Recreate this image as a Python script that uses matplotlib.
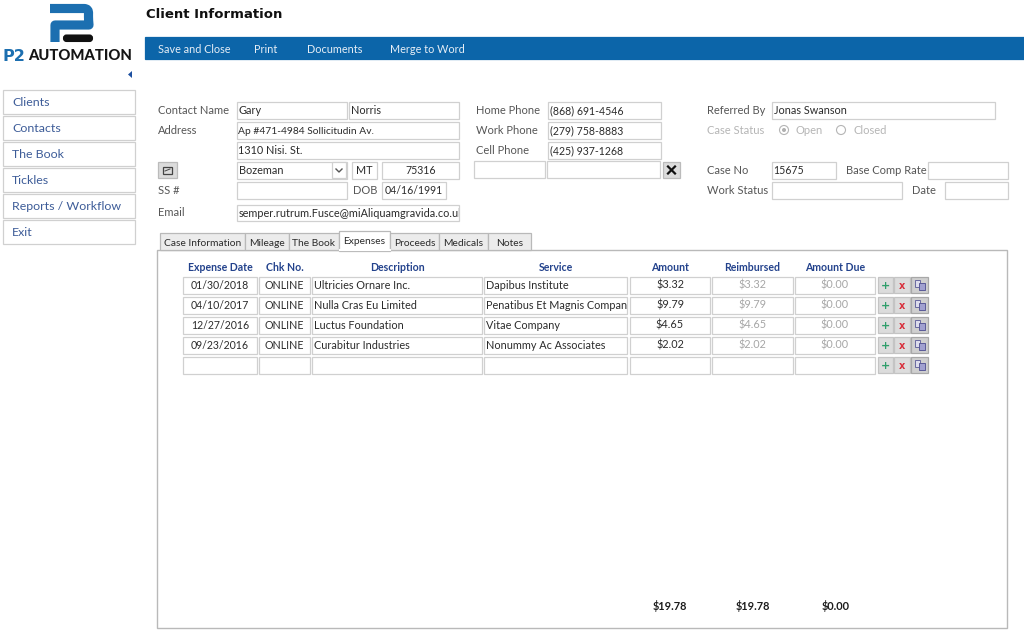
from matplotlib import pyplot as plt
from matplotlib.patches import Rectangle, FancyBboxPatch, Circle, Polygon, PathPatch
from matplotlib.path import Path
from matplotlib.transforms import Bbox, TransformedBbox

FONT = 'Lato'
plt.rcParams['font.family'] = [FONT, 'DejaVu Sans']

menu_items = ['Save and Close', 'Print', 'Documents', 'Merge to Word']
nav_items = ['Clients', 'Contacts', 'The Book', 'Tickles', 'Reports / Workflow', 'Exit']
tab_names = ['Case Information', 'Mileage', 'The Book', 'Expenses', 'Proceeds', 'Medicals', 'Notes']
active_tab = 'Expenses'

columns = ['Expense Date', 'Chk No.', 'Description', 'Service', 'Amount', 'Reimbursed', 'Amount Due']
expense_dates = ['01/30/2018', '04/10/2017', '12/27/2016', '09/23/2016', '']
check_nos = ['ONLINE', 'ONLINE', 'ONLINE', 'ONLINE', '']
descriptions = ['Ultricies Ornare Inc.', 'Nulla Cras Eu Limited', 'Luctus Foundation', 'Curabitur Industries', '']
services = ['Dapibus Institute', 'Penatibus Et Magnis Compan', 'Vitae Company', 'Nonummy Ac Associates', '']
amounts = ['$3.32', '$9.79', '$4.65', '$2.02', '']
reimbursed = ['$3.32', '$9.79', '$4.65', '$2.02', '']
amount_due = ['$0.00', '$0.00', '$0.00', '$0.00', '']
totals = ['$19.78', '$19.78', '$0.00']

fig = plt.figure(figsize=(10.24, 6.4), dpi=100, facecolor='w')
ax = fig.add_axes([0, 0, 1, 1])
ax.set_xlim(0, 1024)
ax.set_ylim(640, 0)
ax.axis('off')

BLUE = '#0c65a9'
EDGE = '#d0d0d0'
LABEL = '#565656'
INK = '#2b2b2b'
NAVY = '#23428c'
FIELD_SIZE = 7.85
NUM_SIZE = 7.6


def box(x0, y0, x1, y1, fc='w', ec=EDGE, lw=0.9):
    ax.add_patch(Rectangle((x0, y0), x1 - x0, y1 - y0, fc=fc, ec=ec, lw=lw))


def txt(x, y, s, color=INK, size=8.0, ha='left', weight='normal', family=None):
    # y is the middle of the capitals; baseline on a whole pixel so a row stays level
    base = round(y + size * 0.5)
    return ax.text(x, base, s, color=color, fontsize=size, ha=ha, va='baseline', fontweight=weight,
                   family=family if family else [FONT, 'DejaVu Sans'])


def field(x0, y0, x1, y1, s='', ha='left', color=INK, size=FIELD_SIZE):
    box(x0, y0, x1, y1)
    if ha == 'center':
        txt((x0 + x1) / 2, (y0 + y1) / 2, s, color=color, ha='center', size=size)
    else:
        t = txt(x0 + 1.5, (y0 + y1) / 2, s, color=color, size=size)
        t.set_clip_box(TransformedBbox(Bbox([[x0, y0], [x1, y1]]), ax.transData))
        t.set_clip_on(True)


# logo
p2_verts = [(50, 8.5), (84, 8.5), (89, 8.5), (88.5, 14), (88.5, 17), (88.5, 20), (89, 25), (84, 25), (55, 25), (55, 42)]
p2_codes = [Path.MOVETO, Path.LINETO, Path.CURVE3, Path.CURVE3, Path.LINETO, Path.CURVE3, Path.CURVE3,
            Path.LINETO, Path.LINETO, Path.LINETO]
ax.add_patch(PathPatch(Path(p2_verts, p2_codes), fc='none', ec='#1c6fb0', lw=6.6, capstyle='butt', joinstyle='round'))
ax.add_patch(FancyBboxPatch((64, 35.5), 28, 5.5, boxstyle='round,pad=0,rounding_size=2.5', fc='#111111', ec='#111111', lw=1.5))
txt(3, 55, 'P2', color='#1c6fb0', size=11.5, weight='bold', family='DejaVu Sans')
txt(28, 55, 'AUTOMATION', color='#151515', size=10.6, weight='black')
ax.add_patch(Polygon([(132, 71), (132, 78), (128, 74.5)], fc='#1c4fa0', ec='none'))

# header
txt(146, 13, 'Client Information', color='#111111', size=9.5, weight='bold', family='DejaVu Sans')
box(145, 37, 1024, 59, fc=BLUE, ec=BLUE)
for x, s in zip([158, 254, 307, 390], menu_items):
    txt(x, 49, s, color='#e6eef6', size=7.8)

# sidebar
nav_tops = [90, 116, 142, 168, 194, 220]
for y, s in zip(nav_tops, nav_items):
    box(3, y, 135, y + 24)
    txt(12, y + 11.5, s, color='#3d5c98', size=8.9)

# form labels
for x, y, s in [(158, 110, 'Contact Name'), (158, 130, 'Address'), (158, 190, 'SS #'), (158, 212, 'Email'),
                (353, 190, 'DOB'), (476, 110, 'Home Phone'), (476, 130, 'Work Phone'), (476, 150, 'Cell Phone'),
                (707, 110, 'Referred By'), (707, 170, 'Case No'), (846, 170, 'Base Comp Rate'),
                (707, 190, 'Work Status'), (912, 190, 'Date')]:
    txt(x, y, s, color=LABEL)

# form fields
field(237, 102, 347, 119, 'Gary')
field(349, 102, 459, 119, 'Norris')
field(237, 122, 459, 139, 'Ap #471-4984 Sollicitudin Av.', size=7.4)
field(237, 142, 459, 159, '1310 Nisi. St.')
field(237, 162, 347, 179, 'Bozeman')
field(332, 162, 346, 178)
ax.plot([336, 339, 342], [169, 172, 169], color='#555555', lw=1)
field(352, 162, 377, 179, 'MT', ha='center')
field(382, 162, 459, 179, '75316', ha='center', size=NUM_SIZE)
field(237, 182, 347, 199)
field(382, 182, 446, 199, '04/16/1991', ha='center', size=NUM_SIZE)
field(237, 205, 459, 221, 'semper.rutrum.Fusce@miAliquamgravida.co.uk', size=7.8)

field(548, 102, 661, 119, '(868) 691-4546', size=NUM_SIZE)
field(548, 122, 661, 139, '(279) 758-8883', size=NUM_SIZE)
field(548, 142, 661, 159, '(425) 937-1268', size=NUM_SIZE)
field(474, 161, 545, 178)
field(547, 161, 660, 178)
field(772, 102, 995, 119, 'Jonas Swanson')
field(772, 162, 836, 179, '15675', size=NUM_SIZE)
field(928, 162, 1008, 179)
field(772, 182, 902, 199)
field(945, 182, 1008, 199)

# small buttons in the form
box(158, 162, 177, 178, fc='#dcdcdc', ec='#bbbbbb')
box(163, 167, 172, 174, fc='#dcdcdc', ec='#444444', lw=0.9)
ax.plot([165, 170], [171, 169], color='#444444', lw=0.7)
box(663, 162, 680, 178, fc='#dcdcdc', ec='#bbbbbb')
ax.plot([668, 675], [166.5, 173.5], color='#111111', lw=1.6)
ax.plot([668, 675], [173.5, 166.5], color='#111111', lw=1.6)

# case status
txt(707, 130, 'Case Status', color='#b5b5b5')
ax.add_patch(Circle((784, 130), 4.5, fc='w', ec='#b5b5b5', lw=0.8))
ax.add_patch(Circle((784, 130), 2, fc='#b0b0b0', ec='none'))
txt(796, 130, 'Open', color='#b5b5b5')
ax.add_patch(Circle((841, 130), 4.5, fc='w', ec='#b5b5b5', lw=0.8))
txt(853, 130, 'Closed', color='#b5b5b5')

# panel and tabs
box(157, 250, 1007, 628, ec='#b9b9b9', lw=1)
tab_edges = [160, 245, 289, 339, 390, 439, 488, 531]
for i, s in enumerate(tab_names):
    x0, x1 = tab_edges[i], tab_edges[i + 1]
    if s == active_tab:
        box(x0, 231, x1, 250.5, fc='w', ec='#b9b9b9')
        ax.plot([x0 + 0.5, x1 - 0.5], [250, 250], color='w', lw=1.5, zorder=3)
        txt((x0 + x1) / 2, 240.5, s, color=INK, ha='center', size=7.4)
    else:
        box(x0, 233, x1, 250, fc='#ececec', ec='#b9b9b9')
        txt((x0 + x1) / 2, 242, s, color=INK, ha='center', size=7.4)

# expenses table
col_edges = [(183, 257), (259, 310), (312, 482), (484, 627), (630, 710), (712, 793), (795, 875)]
col_data = [expense_dates, check_nos, descriptions, services, amounts, reimbursed, amount_due]
col_align = ['center', 'center', 'left', 'left', 'center', 'center', 'center']
col_color = [INK, INK, INK, INK, INK, '#a6a6a6', '#a6a6a6']
col_size = [NUM_SIZE, 7.7, FIELD_SIZE, FIELD_SIZE, FIELD_SIZE, FIELD_SIZE, FIELD_SIZE]
row_tops = [277, 297, 317, 337, 357]

for (x0, x1), name in zip(col_edges, columns):
    txt((x0 + x1) / 2, 267, name, color=NAVY, ha='center', weight='bold', size=7.6)

for j, (x0, x1) in enumerate(col_edges):
    for i, y in enumerate(row_tops):
        field(x0, y, x1, y + 17, col_data[j][i], ha=col_align[j], color=col_color[j], size=col_size[j])

for y in row_tops:
    box(878, y, 893, y + 16, fc='#dcdcdc', ec='#c4c4c4')
    txt(885.5, y + 8, '+', color='#2f9e6a', size=8, ha='center', weight='bold', family='DejaVu Sans')
    box(894, y, 910, y + 16, fc='#dcdcdc', ec='#c4c4c4')
    txt(902, y + 8.5, 'x', color='#d8303c', size=7, ha='center', weight='bold', family='DejaVu Sans')
    box(911, y, 928, y + 16, fc='#cfcfcf', ec='#a8a8a8')
    box(915, y + 3, 920, y + 10, fc='#dcdcec', ec='#6a6aa0', lw=0.7)
    box(919, y + 6, 925, y + 13, fc='#a0a0d0', ec='#5a5a98', lw=0.7)

for x, s in zip([670, 753, 836], totals):
    txt(x, 606, s, color='#1c1c1c', ha='center', weight='bold', size=7.9)

fig.savefig('out.png', dpi=100)
